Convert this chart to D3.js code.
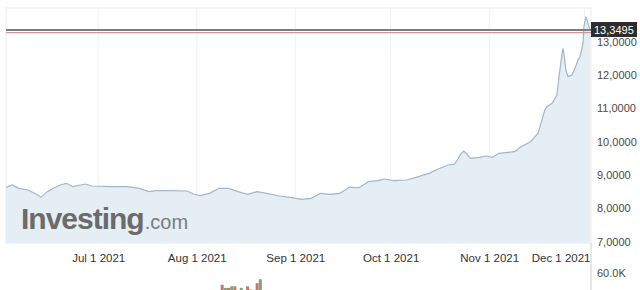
<!DOCTYPE html>
<html>
<head>
<meta charset="utf-8">
<script src="https://cdn.jsdelivr.net/npm/d3@7"></script>
<style>
  body { margin: 0; background: #fff; }
  svg { display: block; font-family: "Liberation Sans", Arial, sans-serif; }
</style>
</head>
<body>
<svg id="chart" width="640" height="290"></svg>
<script>
// price series (date, close)
const priceDates = [
  "2021-06-02", "2021-06-04", "2021-06-06", "2021-06-09", "2021-06-12", "2021-06-13",
  "2021-06-15", "2021-06-17", "2021-06-19", "2021-06-21", "2021-06-23", "2021-06-27",
  "2021-06-29", "2021-07-05", "2021-07-10", "2021-07-14", "2021-07-17", "2021-07-19",
  "2021-07-24", "2021-07-29", "2021-07-31", "2021-08-02", "2021-08-05", "2021-08-08",
  "2021-08-11", "2021-08-14", "2021-08-17", "2021-08-20", "2021-08-23", "2021-08-27",
  "2021-08-31", "2021-09-03", "2021-09-06", "2021-09-09", "2021-09-12", "2021-09-15",
  "2021-09-18", "2021-09-21", "2021-09-24", "2021-09-27", "2021-09-29", "2021-10-02",
  "2021-10-06", "2021-10-09", "2021-10-13", "2021-10-16", "2021-10-19", "2021-10-21",
  "2021-10-22", "2021-10-23", "2021-10-24", "2021-10-25", "2021-10-26", "2021-10-29",
  "2021-10-31", "2021-11-02", "2021-11-04", "2021-11-07", "2021-11-09", "2021-11-11",
  "2021-11-14", "2021-11-16T08:00", "2021-11-17", "2021-11-18T12:00", "2021-11-19T03:00",
  "2021-11-20T19:00", "2021-11-22T07:00", "2021-11-22T23:00", "2021-11-23T22:00",
  "2021-11-24T05:00", "2021-11-24T12:00", "2021-11-25T03:00", "2021-11-25T19:00",
  "2021-11-27", "2021-11-28", "2021-11-28T22:00", "2021-11-29T14:00", "2021-11-30T12:00",
  "2021-11-30T19:00", "2021-12-01T10:00", "2021-12-02T02:00", "2021-12-02T17:00"
];
const priceValues = [
  8.63, 8.70, 8.60, 8.55, 8.40, 8.33,
  8.50, 8.61, 8.70, 8.75, 8.65, 8.73,
  8.67, 8.65, 8.65, 8.60, 8.50, 8.53,
  8.53, 8.52, 8.43, 8.38, 8.45, 8.60,
  8.60, 8.50, 8.42, 8.50, 8.45, 8.37,
  8.32, 8.27, 8.30, 8.45, 8.42, 8.45,
  8.63, 8.62, 8.80, 8.83, 8.88, 8.83,
  8.85, 8.93, 9.05, 9.18, 9.30, 9.32,
  9.45, 9.62, 9.72, 9.63, 9.50, 9.53,
  9.57, 9.53, 9.65, 9.68, 9.70, 9.85,
  10.00, 10.25, 10.45, 10.95, 11.05,
  11.15, 11.40, 11.95, 12.65,
  12.80, 12.65, 12.15, 11.95,
  12.00, 12.20, 12.45, 12.55, 12.95,
  13.45, 13.75, 13.55, 13.3495
];
const lastPrice = 13.3495;
const prevClose = 13.27;

// volume bars visible at the top of the lower pane
const volumeDates = [
  "2021-08-09", "2021-08-10", "2021-08-11", "2021-08-12", "2021-08-13", "2021-08-15",
  "2021-08-17", "2021-08-18", "2021-08-20", "2021-08-21", "2021-11-17", "2021-11-18"
];
const volumeValues = [45000, 41000, 41000, 43000, 43000, 41000, 43000, 39000, 47000, 52000, 36000, 33000];
const volumeUp = [false, true, false, true, false, true, false, true, false, true, true, false];

const priceTicks = [7, 8, 9, 10, 11, 12, 13];
const volumeTicks = [60000];
const dateTicks = ["2021-07-01", "2021-08-01", "2021-09-01", "2021-10-01", "2021-11-01", "2021-12-01"];

const parse = s => new Date(s.length > 10 ? s : s + "T00:00");
const prices = priceDates.map((d, i) => ({ date: parse(d), value: priceValues[i] }));
const volumes = volumeDates.map((d, i) => ({ date: parse(d), value: volumeValues[i], up: volumeUp[i] }));

const svg = d3.select("#chart");
const plot = { left: 6, right: 591, top: 8, bottom: 243 };

const x = d3.scaleTime()
  .domain(d3.extent(prices, d => d.date))
  .range([plot.left, plot.right - 1]);
const y = d3.scaleLinear().domain([6.96, 14.01]).range([plot.bottom, plot.top]);
const yVol = d3.scaleLinear().domain([0, 60000]).range([320, 273]);

const locale = d3.formatLocale({ decimal: ",", thousands: ".", grouping: [3], currency: ["", ""] });
const fmtPrice = locale.format(".4f");
const fmtDate = d3.timeFormat("%b %-d %Y");

// frame
svg.append("rect")
  .attr("x", plot.left).attr("y", plot.top)
  .attr("width", plot.right - plot.left).attr("height", plot.bottom - plot.top)
  .attr("fill", "#fff").attr("stroke", "#ebebeb");

// vertical grid
svg.append("g").selectAll("line")
  .data(dateTicks.map(parse))
  .join("line")
  .attr("x1", d => x(d)).attr("x2", d => x(d))
  .attr("y1", plot.top).attr("y2", plot.bottom)
  .attr("stroke", "#f1f1f1");

// area + line
svg.append("path")
  .datum(prices)
  .attr("fill", "#e5edf5")
  .attr("d", d3.area().x(d => x(d.date)).y0(plot.bottom).y1(d => y(d.value)));

svg.append("path")
  .datum(prices)
  .attr("fill", "none")
  .attr("stroke", "#a3b7c9")
  .attr("stroke-width", 1.2)
  .attr("d", d3.line().x(d => x(d.date)).y(d => y(d.value)));

// watermark
const wm = svg.append("text")
  .attr("x", 21).attr("y", 229)
  .attr("fill", "#6b6b6b");
wm.append("tspan").attr("font-size", 30).attr("font-weight", "bold").attr("letter-spacing", -1).text("Investing");
wm.append("tspan").attr("font-size", 20).attr("dx", 1).attr("fill", "#7c7c7c").text(".com");

// price lines
svg.append("line")
  .attr("x1", plot.left).attr("x2", plot.right)
  .attr("y1", y(prevClose)).attr("y2", y(prevClose))
  .attr("stroke", "#c59a9a").attr("stroke-width", 1.2);
svg.append("line")
  .attr("x1", plot.left).attr("x2", plot.right)
  .attr("y1", y(lastPrice)).attr("y2", y(lastPrice))
  .attr("stroke", "#7d7d7d").attr("stroke-width", 2);

// right axis (price)
svg.append("g")
  .attr("transform", `translate(${plot.right},0)`)
  .call(d3.axisRight(y).tickValues(priceTicks).tickFormat(fmtPrice).tickSize(0).tickPadding(6))
  .call(g => g.select(".domain").remove())
  .call(g => g.selectAll("text").attr("font-size", 11).attr("fill", "#4a4a4a")
    .attr("font-family", "'Liberation Sans', Arial, sans-serif"));

// last price tag
const tag = svg.append("g").attr("transform", `translate(${plot.right},${y(lastPrice)})`);
tag.append("rect").attr("x", 0).attr("y", -8).attr("width", 46).attr("height", 15).attr("fill", "#2d2d2d");
tag.append("text").attr("x", 3).attr("y", 4)
  .attr("font-size", 11).attr("fill", "#fff").text(fmtPrice(lastPrice));

// bottom date axis
const gx = svg.append("g")
  .attr("transform", `translate(0,${plot.bottom})`)
  .call(d3.axisBottom(x).tickValues(dateTicks.map(parse)).tickFormat(fmtDate).tickSize(0).tickPadding(11))
  .call(g => g.select(".domain").remove());
gx.selectAll("text")
  .attr("font-size", 11.5).attr("fill", "#333")
  .attr("font-family", "'Liberation Sans', Arial, sans-serif")
  .each(function(d) {
    const w = this.getComputedTextLength();
    if (x(d) + w / 2 > plot.right - 1) {
      d3.select(this).attr("text-anchor", "end").attr("x", plot.right - 1 - x(d));
    }
  });

// volume pane
svg.append("line")
  .attr("x1", plot.right).attr("x2", plot.right)
  .attr("y1", plot.bottom).attr("y2", 290)
  .attr("stroke", "#d0d0d0");

svg.append("g").selectAll("rect")
  .data(volumes)
  .join("rect")
  .attr("x", d => x(d.date) - 1.5)
  .attr("width", 3)
  .attr("y", d => yVol(d.value))
  .attr("height", d => yVol(0) - yVol(d.value))
  .attr("fill", d => d.up ? "#7fa27a" : "#c47868");

svg.append("g")
  .attr("transform", `translate(${plot.right},0)`)
  .call(d3.axisRight(yVol).tickValues(volumeTicks).tickFormat(d => (d / 1000).toFixed(1) + "K").tickSize(0).tickPadding(6))
  .call(g => g.select(".domain").remove())
  .call(g => g.selectAll("text").attr("font-size", 11).attr("fill", "#4a4a4a")
    .attr("font-family", "'Liberation Sans', Arial, sans-serif"));
</script>
</body>
</html>
